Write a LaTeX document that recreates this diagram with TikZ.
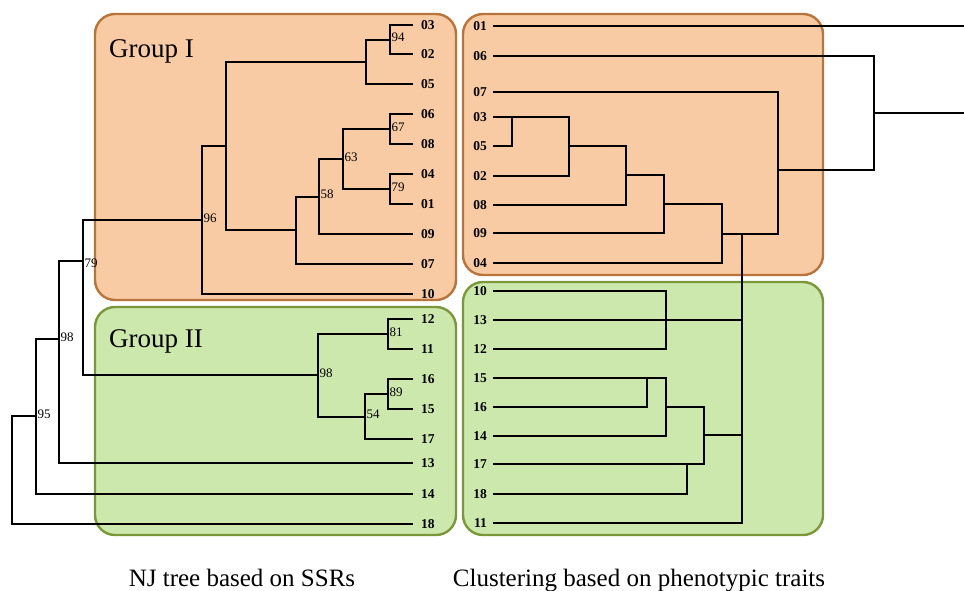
\documentclass[tikz,border=0pt]{standalone}
\usepackage{fontspec}
\setmainfont{Liberation Serif}
\usepackage{xcolor}
\definecolor{peach}{HTML}{F9CBA4}
\definecolor{peachline}{HTML}{B8743A}
\definecolor{leaf}{HTML}{CDE8AD}
\definecolor{leafline}{HTML}{7A983A}
\tikzset{
  grpbox/.style={rounded corners=20pt, line width=2.4pt},
  lbranch/.style={line width=2pt},
  rbranch/.style={line width=1.7pt},
  lleaf/.style={anchor=west, inner xsep=8pt, inner ysep=0pt, font=\fontsize{13.5}{14}\selectfont\bfseries},
  rleaf/.style={anchor=east, inner xsep=6pt, inner ysep=0pt, font=\fontsize{13.5}{14}\selectfont\bfseries},
  bs/.style={inner sep=1.5pt, yshift=2pt, font=\fontsize{13}{13}\selectfont},
  grptext/.style={anchor=base west, inner sep=0pt, font=\fontsize{27}{27}\selectfont},
  caption/.style={anchor=base, inner sep=0pt, font=\fontsize{25}{25}\selectfont}
}

\begin{document}
\begin{tikzpicture}[x=1pt,y=-1pt]
  \useasboundingbox (0,0) rectangle (964,590);

  % group boxes
  \draw[grpbox, fill=peach, draw=peachline] (95,14) rectangle (456,300);
  \draw[grpbox, fill=peach, draw=peachline] (463,14) rectangle (823,275);
  \draw[grpbox, fill=leaf, draw=leafline] (95,307) rectangle (456,535);
  \draw[grpbox, fill=leaf, draw=leafline] (463,282) rectangle (823,535);
  \node[grptext] (grpone) at (109,57) {Group I};
  \node[grptext] (grptwo) at (109,347) {Group II};

  % NJ tree, leaves
  \node[lleaf] (L03) at (413,25) {03};
  \node[lleaf] (L02) at (413,54) {02};
  \node[lleaf] (L05) at (413,84) {05};
  \node[lleaf] (L06) at (413,114) {06};
  \node[lleaf] (L08) at (413,144) {08};
  \node[lleaf] (L04) at (413,174) {04};
  \node[lleaf] (L01) at (413,204) {01};
  \node[lleaf] (L09) at (413,234) {09};
  \node[lleaf] (L07) at (413,264) {07};
  \node[lleaf] (L10) at (413,294) {10};
  \node[lleaf] (L12) at (413,319) {12};
  \node[lleaf] (L11) at (413,349) {11};
  \node[lleaf] (L16) at (413,379) {16};
  \node[lleaf] (L15) at (413,409) {15};
  \node[lleaf] (L17) at (413,439) {17};
  \node[lleaf] (L13) at (413,463) {13};
  \node[lleaf] (L14) at (413,494) {14};
  \node[lleaf] (L18) at (413,524) {18};

  % NJ tree, inner nodes with bootstrap values
  \coordinate[label={[bs]right:94}] (a1) at (390,39.5);
  \coordinate (a2) at (366,62);
  \coordinate[label={[bs]right:67}] (a3) at (390,129);
  \coordinate[label={[bs]right:79}] (a4) at (390,189);
  \coordinate[label={[bs]right:63}] (a5) at (343,159);
  \coordinate[label={[bs]right:58}] (a6) at (319,196.5);
  \coordinate (a7) at (296,230);
  \coordinate (a8) at (226,146);
  \coordinate[label={[bs]right:96}] (a9) at (202,220);
  \coordinate[label={[bs]right:81}] (b1) at (388,334);
  \coordinate[label={[bs]right:89}] (b2) at (388,394);
  \coordinate[label={[bs]right:54}] (b3) at (365,416.5);
  \coordinate[label={[bs]right:98}] (b4) at (318,375);
  \coordinate[label={[bs,yshift=-4pt]right:79}] (c1) at (83,261);
  \coordinate[label={[bs]right:98}] (c2) at (59,339);
  \coordinate[label={[bs]right:95}] (c3) at (36,416);
  \coordinate (c4) at (12,470);

  % NJ tree, branches
  \draw[lbranch] (L03.west) -| (a1) |- (L02.west);
  \draw[lbranch] (a1) -| (a2) |- (L05.west);
  \draw[lbranch] (L06.west) -| (a3) |- (L08.west);
  \draw[lbranch] (L04.west) -| (a4) |- (L01.west);
  \draw[lbranch] (a3) -| (a5) |- (a4);
  \draw[lbranch] (a5) -| (a6) |- (L09.west);
  \draw[lbranch] (a6) -| (a7) |- (L07.west);
  \draw[lbranch] (a2) -| (a8) |- (a7);
  \draw[lbranch] (a8) -| (a9) |- (L10.west);
  \draw[lbranch] (L12.west) -| (b1) |- (L11.west);
  \draw[lbranch] (L16.west) -| (b2) |- (L15.west);
  \draw[lbranch] (b2) -| (b3) |- (L17.west);
  \draw[lbranch] (b1) -| (b4) |- (b3);
  \draw[lbranch] (a9) -| (c1) |- (b4);
  \draw[lbranch] (c1) -| (c2) |- (L13.west);
  \draw[lbranch] (c2) -| (c3) |- (L14.west);
  \draw[lbranch] (c3) -| (c4) |- (L18.west);

  % phenotypic clustering, leaves
  \node[rleaf] (R01) at (493,26) {01};
  \node[rleaf] (R06) at (493,56) {06};
  \node[rleaf] (R07) at (493,92) {07};
  \node[rleaf] (R03) at (493,117) {03};
  \node[rleaf] (R05) at (493,146) {05};
  \node[rleaf] (R02) at (493,176) {02};
  \node[rleaf] (R08) at (493,205) {08};
  \node[rleaf] (R09) at (493,233) {09};
  \node[rleaf] (R04) at (493,263) {04};
  \node[rleaf] (R10) at (493,291) {10};
  \node[rleaf] (R13) at (493,320) {13};
  \node[rleaf] (R12) at (493,349) {12};
  \node[rleaf] (R15) at (493,378) {15};
  \node[rleaf] (R16) at (493,407) {16};
  \node[rleaf] (R14) at (493,436) {14};
  \node[rleaf] (R17) at (493,464) {17};
  \node[rleaf] (R18) at (493,494) {18};
  \node[rleaf] (R11) at (493,523) {11};

  % phenotypic clustering, joins
  \coordinate (r1) at (512,117);
  \coordinate (r2) at (569,146);
  \coordinate (r3) at (626,175);
  \coordinate (r4) at (664,204);
  \coordinate (r5) at (722,234);
  \coordinate (r6) at (778,170);
  \coordinate (r7) at (874,113);
  \coordinate (rt) at (964,113);
  \coordinate (g1) at (742,234);
  \coordinate (g2) at (666,320);
  \coordinate (g3) at (647,378);
  \coordinate (g4) at (666,407);
  \coordinate (g5) at (704,435);
  \coordinate (g6) at (687,464);

  \draw[rbranch] (R05.east) -| (r1);
  \draw[rbranch] (R03.east) -| (r2) |- (R02.east);
  \draw[rbranch] (r2) -| (r3) |- (R08.east);
  \draw[rbranch] (r3) -| (r4) |- (R09.east);
  \draw[rbranch] (r4) -| (r5) |- (R04.east);
  \draw[rbranch] (r5) -| (r6) |- (R07.east);
  \draw[rbranch] (r6) -| (r7) |- (R06.east);
  \draw[rbranch] (r7) -- (rt);
  \draw[rbranch] (R01.east) -- (R01.east -| rt);
  \draw[rbranch] (g1) |- (R11.east);
  \draw[rbranch] (R13.east) -- (R13.east -| g1);
  \draw[rbranch] (R10.east) -| (g2) |- (R12.east);
  \draw[rbranch] (R16.east) -| (g3);
  \draw[rbranch] (R15.east) -| (g4) |- (R14.east);
  \draw[rbranch] (g4) -| (g5) |- (R17.east);
  \draw[rbranch] (g5) -- (g5 -| g1);
  \draw[rbranch] (R18.east) -| (g6);

  % captions
  \node[caption] (capnj) at (242,586) {NJ tree based on SSRs};
  \node[caption] (capph) at (639,586) {Clustering based on phenotypic traits};
\end{tikzpicture}
\end{document}
